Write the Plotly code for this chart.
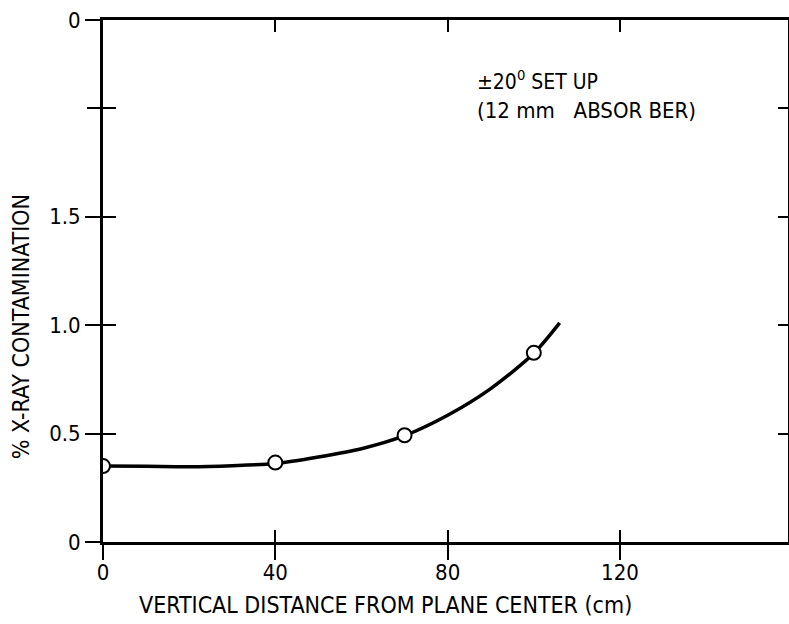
import plotly.graph_objects as go

# measured points
pt_x = [0, 40, 70, 100]
pt_y = [0.35, 0.366, 0.492, 0.872]

# smooth hand-drawn curve
curve_x = [0, 10, 20, 30, 40, 50, 60, 70, 80, 90, 100, 106]
curve_y = [0.35, 0.349, 0.347, 0.352, 0.362, 0.392, 0.43, 0.49, 0.584, 0.707, 0.87, 1.01]

x_ticks = [0, 40, 80, 120]
x_ticktext = ["0", "40", "80", "120"]
y_ticks = [0, 0.5, 1.0, 1.5, 2.406]
y_ticktext = ["0", "0.5", "1.0", "1.5", "0"]
inner_ticks_x = [40, 80, 120]
inner_ticks_y = [0.5, 1.0, 1.5, 2.0]
x_range = [0, 159]
y_range = [0, 2.406]

FONT = "Liberation Sans Narrow, DejaVu Sans Condensed, Arial Narrow, sans-serif"

fig = go.Figure()
fig.add_trace(go.Scatter(x=curve_x, y=curve_y, mode="lines",
                         line=dict(color="black", width=3.5, shape="spline", smoothing=0.8),
                         hoverinfo="skip", showlegend=False))
fig.add_trace(go.Scatter(x=pt_x, y=pt_y, mode="markers",
                         marker=dict(symbol="circle", size=14, color="white",
                                     line=dict(color="black", width=2)),
                         showlegend=False))
# empty helper traces so overlay axes render
for xa, ya in [("x2", "y"), ("x3", "y"), ("x", "y2"), ("x", "y3"), ("x", "y4")]:
    fig.add_trace(go.Scatter(x=[None], y=[None], xaxis=xa, yaxis=ya,
                             showlegend=False, hoverinfo="skip"))

common = dict(showgrid=False, zeroline=False)
fig.update_layout(
    width=789, height=624,
    margin=dict(l=103, r=1, t=20, b=82),
    paper_bgcolor="white", plot_bgcolor="white",
    font=dict(family=FONT, color="black", size=20),
    xaxis=dict(range=x_range, tickvals=x_ticks, ticktext=x_ticktext,
               ticks="outside", ticklen=15, tickwidth=2, tickcolor="black",
               ticklabelstandoff=-6,
               showline=True, linewidth=3, linecolor="black",
               tickfont=dict(size=22, family=FONT), **common),
    xaxis2=dict(range=x_range, overlaying="x", side="top", anchor="y",
                tickvals=inner_ticks_x, ticks="inside", ticklen=12, tickwidth=2,
                tickcolor="black", showticklabels=False,
                showline=True, linewidth=3, linecolor="black", **common),
    xaxis3=dict(range=x_range, overlaying="x", side="bottom", anchor="y",
                tickvals=inner_ticks_x, ticks="inside", ticklen=12, tickwidth=2,
                tickcolor="black", showticklabels=False, showline=False, **common),
    yaxis=dict(range=y_range, tickvals=y_ticks, ticktext=y_ticktext,
               ticks="outside", ticklen=15, tickwidth=2, tickcolor="black",
               showline=True, linewidth=3, linecolor="black",
               tickfont=dict(size=22, family=FONT), **common),
    yaxis2=dict(range=y_range, overlaying="y", side="right", anchor="x",
                tickvals=inner_ticks_y, ticks="inside", ticklen=10, tickwidth=2,
                tickcolor="black", showticklabels=False,
                showline=True, linewidth=1, linecolor="black", **common),
    yaxis3=dict(range=y_range, overlaying="y", side="left", anchor="x",
                tickvals=inner_ticks_y, ticks="inside", ticklen=13, tickwidth=2,
                tickcolor="black", showticklabels=False, showline=False, **common),
    yaxis4=dict(range=y_range, overlaying="y", side="left", anchor="x",
                tickvals=[2.0], ticks="outside", ticklen=15, tickwidth=2,
                tickcolor="black", showticklabels=False, showline=False, **common),
    annotations=[
        dict(xref="x", yref="y", x=86.4, y=2.13, xanchor="left", yanchor="middle",
             text="±20<sup>0</sup> SET UP", showarrow=False,
             font=dict(size=21, family=FONT)),
        dict(xref="x", yref="y", x=86.4, y=1.99, xanchor="left", yanchor="middle",
             text="(12 mm   ABSOR BER)", showarrow=False,
             font=dict(size=22, family=FONT)),
        dict(xref="paper", yref="paper", x=(385 - 103) / 685, y=-(605 - 541.7) / 521.7,
             xanchor="center", yanchor="middle",
             text="VERTICAL DISTANCE FROM PLANE CENTER (cm)", showarrow=False,
             font=dict(size=23, family=FONT)),
        dict(xref="paper", yref="paper", x=-(103 - 21) / 685, y=(541.7 - 327) / 521.7,
             xanchor="center", yanchor="middle", textangle=-90,
             text="% X-RAY CONTAMINATION", showarrow=False,
             font=dict(size=23, family=FONT)),
    ],
)

fig.write_html("out.html")
